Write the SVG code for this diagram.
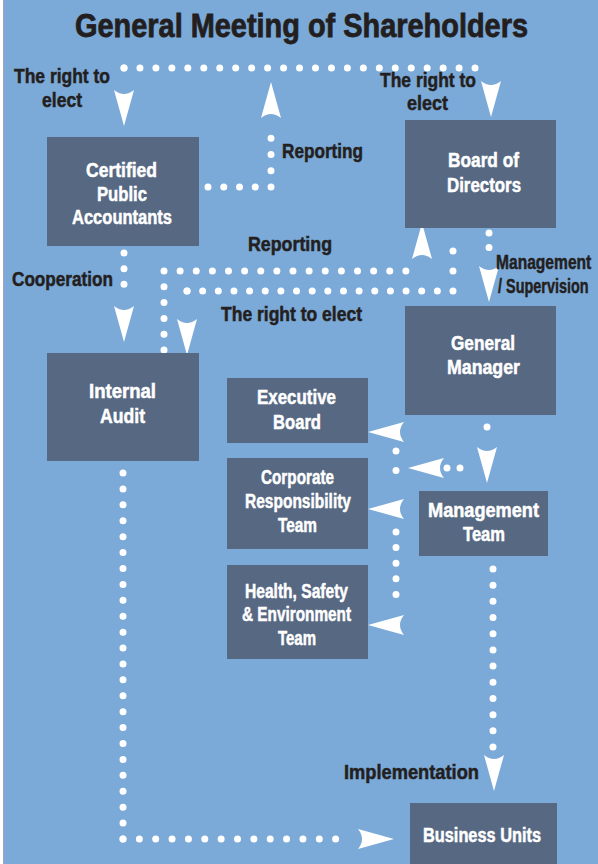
<svg xmlns="http://www.w3.org/2000/svg" xmlns:xlink="http://www.w3.org/1999/xlink" width="598" height="864" viewBox="0 0 598 864">
  <style>
    .bg { fill: #7BAAD9; }
    .box { fill: #566882; }
    .nt { font-family: "Liberation Sans", Arial, sans-serif; font-weight: bold; font-size: 20px; fill: #FFFFFF; stroke: #FFFFFF; stroke-width: 0.5; }
    .lbl { font-family: "Liberation Sans", Arial, sans-serif; font-weight: bold; font-size: 19.5px; fill: #231F20; stroke: #231F20; stroke-width: 0.5; }
    .title { font-family: "Liberation Sans", Arial, sans-serif; font-weight: bold; font-size: 33px; fill: #231F20; stroke: #231F20; stroke-width: 0.8; }
    .dots { fill: none; stroke: #FFFFFF; stroke-width: 7; stroke-linecap: round; stroke-dasharray: 0 1; }
    .ah { fill: #FFFFFF; }
  </style>
  <defs>
    <path id="ah" d="M0,0 L-36,-10 Q-28,0 -36,10 Z"/>
  </defs>

  <rect x="0" y="0" width="598" height="864" fill="#FFFFFF"/>
  <rect class="bg" x="3" y="0" width="595" height="864"/>
  <line x1="3.5" y1="0" x2="3.5" y2="864" stroke="#A0A8B0" stroke-width="1"/>

  <text class="title" x="75" y="37" textLength="453" lengthAdjust="spacingAndGlyphs">General Meeting of Shareholders</text>

  <g id="connectors">
    <!-- Shareholders elect CPA and Board -->
    <path class="dots" d="M124,68 H491" pathLength="23"/>
    <path class="dots" d="M124,68 V84" pathLength="1"/>
    <use class="ah" xlink:href="#ah" href="#ah" transform="translate(124,126) rotate(90)"/>
    <use class="ah" xlink:href="#ah" href="#ah" transform="translate(491,117) rotate(90)"/>
    <!-- CPA reporting to shareholders -->
    <path class="dots" d="M208,187 H271" pathLength="4"/>
    <path class="dots" d="M271,187 V122" pathLength="4"/>
    <use class="ah" xlink:href="#ah" href="#ah" transform="translate(271,82) rotate(-90)"/>
    <!-- Cooperation -->
    <path class="dots" d="M124,253 V300" pathLength="3"/>
    <use class="ah" xlink:href="#ah" href="#ah" transform="translate(124,342) rotate(90)"/>
    <!-- Internal Audit reporting to Board -->
    <path class="dots" d="M164,350 V271" pathLength="5"/>
    <path class="dots" d="M164,271 H422" pathLength="16"/>
    <use class="ah" xlink:href="#ah" href="#ah" transform="translate(422,223) rotate(-90)"/>
    <!-- Board elects Internal Audit -->
    <path class="dots" d="M453,251 V291" pathLength="2"/>
    <path class="dots" d="M453,291 H187" pathLength="17"/>
    <path class="dots" d="M187,291 V311" pathLength="1"/>
    <use class="ah" xlink:href="#ah" href="#ah" transform="translate(187,355) rotate(90)"/>
    <!-- Management / Supervision -->
    <path class="dots" d="M489,233 V262" pathLength="2"/>
    <use class="ah" xlink:href="#ah" href="#ah" transform="translate(489,302) rotate(90)"/>
    <!-- General Manager to Management Team -->
    <path class="dots" d="M487,427 V443" pathLength="1"/>
    <use class="ah" xlink:href="#ah" href="#ah" transform="translate(487,483) rotate(90)"/>
    <path class="dots" d="M447,468 H473" pathLength="2"/>
    <use class="ah" xlink:href="#ah" href="#ah" transform="translate(408,468) rotate(180)"/>
    <!-- Branch to teams -->
    <path class="dots" d="M396,451 V490" pathLength="2"/>
    <path class="dots" d="M396,532 V610" pathLength="5"/>
    <use class="ah" xlink:href="#ah" href="#ah" transform="translate(368,432) rotate(180)"/>
    <use class="ah" xlink:href="#ah" href="#ah" transform="translate(368,509) rotate(180)"/>
    <use class="ah" xlink:href="#ah" href="#ah" transform="translate(368,625) rotate(180)"/>
    <!-- Implementation -->
    <path class="dots" d="M493,569 V747" pathLength="11"/>
    <use class="ah" xlink:href="#ah" href="#ah" transform="translate(494,791) rotate(90)"/>
    <!-- Internal Audit to Business Units -->
    <path class="dots" d="M123,473 V839" pathLength="23"/>
    <path class="dots" d="M123,839 H352" pathLength="14"/>
    <use class="ah" xlink:href="#ah" href="#ah" transform="translate(394,839)"/>
  </g>

  <g id="labels">
    <text class="lbl" x="14" y="83" textLength="96" lengthAdjust="spacingAndGlyphs">The right to</text>
    <text class="lbl" x="42" y="107" textLength="40" lengthAdjust="spacingAndGlyphs">elect</text>
    <text class="lbl" x="380" y="87" textLength="96" lengthAdjust="spacingAndGlyphs">The right to</text>
    <text class="lbl" x="407" y="110" textLength="41" lengthAdjust="spacingAndGlyphs">elect</text>
    <text class="lbl" x="282" y="158" textLength="81" lengthAdjust="spacingAndGlyphs">Reporting</text>
    <text class="lbl" x="248" y="251" textLength="84" lengthAdjust="spacingAndGlyphs">Reporting</text>
    <text class="lbl" x="12" y="286" textLength="101" lengthAdjust="spacingAndGlyphs">Cooperation</text>
    <text class="lbl" x="221" y="321" textLength="141" lengthAdjust="spacingAndGlyphs">The right to elect</text>
    <text class="lbl" transform="translate(496,269) scale(0.8,1)" x="0" y="0">Management</text>
    <text class="lbl" transform="translate(498,293) scale(0.74,1)" x="0" y="0">/ Supervision</text>
    <text class="lbl" x="344" y="779" textLength="135" lengthAdjust="spacingAndGlyphs">Implementation</text>
  </g>

  <g id="cpa">
    <rect class="box" x="47" y="137" width="152" height="109"/>
    <text class="nt" x="86" y="177" textLength="71" lengthAdjust="spacingAndGlyphs">Certified</text>
    <text class="nt" x="97" y="201" textLength="50" lengthAdjust="spacingAndGlyphs">Public</text>
    <text class="nt" x="72" y="224" textLength="100" lengthAdjust="spacingAndGlyphs">Accountants</text>
  </g>
  <g id="board">
    <rect class="box" x="405" y="120" width="151" height="108"/>
    <text class="nt" x="448" y="167" textLength="71" lengthAdjust="spacingAndGlyphs">Board of</text>
    <text class="nt" x="447" y="192" textLength="74" lengthAdjust="spacingAndGlyphs">Directors</text>
  </g>
  <g id="internal-audit">
    <rect class="box" x="47" y="353" width="152" height="108"/>
    <text class="nt" x="89" y="398" textLength="67" lengthAdjust="spacingAndGlyphs">Internal</text>
    <text class="nt" x="100" y="423" textLength="45" lengthAdjust="spacingAndGlyphs">Audit</text>
  </g>
  <g id="general-manager">
    <rect class="box" x="405" y="306" width="151" height="109"/>
    <text class="nt" x="451" y="350" textLength="64" lengthAdjust="spacingAndGlyphs">General</text>
    <text class="nt" x="447" y="374" textLength="73" lengthAdjust="spacingAndGlyphs">Manager</text>
  </g>
  <g id="executive-board">
    <rect class="box" x="227" y="378" width="141" height="65"/>
    <text class="nt" x="257" y="404" textLength="79" lengthAdjust="spacingAndGlyphs">Executive</text>
    <text class="nt" x="273" y="429" textLength="48" lengthAdjust="spacingAndGlyphs">Board</text>
  </g>
  <g id="csr-team">
    <rect class="box" x="227" y="458" width="141" height="91"/>
    <text class="nt" x="261" y="484" textLength="73" lengthAdjust="spacingAndGlyphs">Corporate</text>
    <text class="nt" x="245" y="508" textLength="106" lengthAdjust="spacingAndGlyphs">Responsibility</text>
    <text class="nt" x="278" y="532" textLength="39" lengthAdjust="spacingAndGlyphs">Team</text>
  </g>
  <g id="hse-team">
    <rect class="box" x="227" y="565" width="141" height="94"/>
    <text class="nt" x="245" y="598" textLength="103" lengthAdjust="spacingAndGlyphs">Health, Safety</text>
    <text class="nt" x="242" y="621" textLength="109" lengthAdjust="spacingAndGlyphs">&amp; Environment</text>
    <text class="nt" x="278" y="645" textLength="38" lengthAdjust="spacingAndGlyphs">Team</text>
  </g>
  <g id="management-team">
    <rect class="box" x="419" y="491" width="129" height="65"/>
    <text class="nt" x="428" y="517" textLength="111" lengthAdjust="spacingAndGlyphs">Management</text>
    <text class="nt" x="463" y="541" textLength="42" lengthAdjust="spacingAndGlyphs">Team</text>
  </g>
  <g id="business-units">
    <rect class="box" x="410" y="803" width="147" height="61"/>
    <text class="nt" x="423" y="842" textLength="118" lengthAdjust="spacingAndGlyphs">Business Units</text>
  </g>
</svg>
